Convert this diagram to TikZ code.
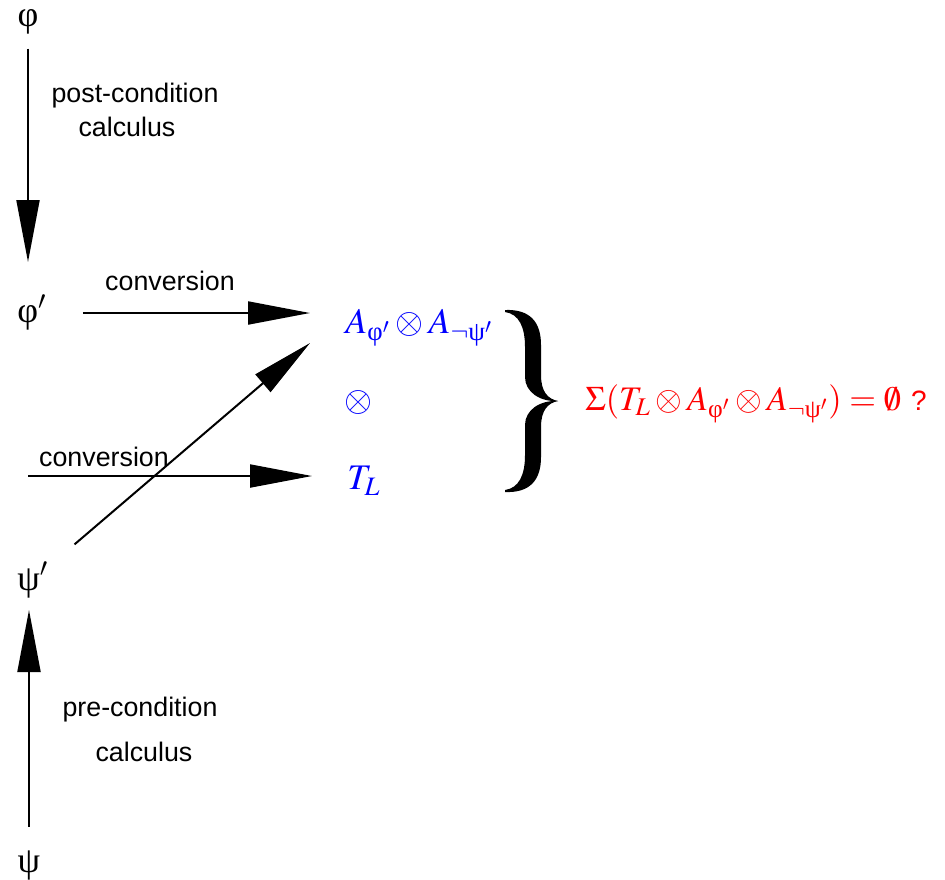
\documentclass[tikz,border=0pt]{standalone}
\usepackage{mathptmx}
\usepackage{amsmath}
\usepackage[no-math]{fontspec}
\newfontfamily\lblfont{Liberation Sans}
\newfontfamily\grk{Liberation Serif}
\usetikzlibrary{arrows.meta}
\newcommand{\gph}{\text{\grk φ}}
\newcommand{\gps}{\text{\grk ψ}}
\begin{document}
\begin{tikzpicture}[x=0.5pt,y=-0.5pt,
  lbl/.style={font=\lblfont\fontsize{13.4}{16}\selectfont, inner sep=0},
  gk/.style={font=\grk\fontsize{18}{20}\selectfont, inner sep=0},
  mth/.style={font=\fontsize{18}{22}\selectfont, inner sep=0},
  arr/.style={line width=1pt, -{Triangle[length=31pt,width=11.5pt]}}]
\useasboundingbox (0,0) rectangle (945,879);
% greek labels
\node[gk] (phi) at (28,22) {φ};
\node[gk, anchor=west] (phip) at (17,313) {φ$'$};
\node[gk, anchor=west] (psip) at (17,580) {ψ$'$};
\node[gk] (psi) at (29,865) {ψ};
% blue / red formulas
\node[mth, text=blue, anchor=west] (A) at (345,328) {$A_{\gph'}\otimes A_{\neg\gps'}$};
\node[mth, text=blue] (ot) at (358,402) {$\otimes$};
\node[mth, text=blue, anchor=west] (TL) at (347,481) {$T_L$};
\node[mth, text=red, anchor=west, font=\fontsize{17.2}{21}\selectfont] (eq) at (585,404) {$\Sigma(T_L\otimes A_{\gph'}\otimes A_{\neg\gps'})=\emptyset$\hspace{5pt}{\lblfont\fontsize{14}{17}\selectfont ?}};
% text labels
\node[lbl] (post1) at (135,96) {post-condition};
\node[lbl] (post2) at (127,127) {calculus};
\node[lbl] (conv1) at (170,281) {conversion};
\node[lbl] (conv2) at (104,457) {conversion};
\node[lbl] (pre1) at (140,710) {pre-condition};
\node[lbl] (pre2) at (144,752) {calculus};
% connectors
\draw[arr, shorten <=7pt, shorten >=25.5pt] (phi) -- (phi |- phip);
\draw[arr, shorten <=11.5pt, shorten >=15pt] (psi) -- (psi |- psip);
\draw[arr, shorten <=18pt, shorten >=17.5pt] (phip.east) -- (phip.east -| A.west);
\coordinate (cs) at (28,476);
\draw[arr, shorten >=17.5pt] (cs) -- (cs -| TL.west);
\coordinate (dt) at (310,343);
\draw[arr, shorten <=17pt] (psip) -- (dt);
% brace
\fill (505,310) .. controls (530,309) and (541,322) .. (541,345) -- (541,375) .. controls (541,392) and (548,399) .. (558,401) .. controls (540,402) and (525,392) .. (525,377) -- (525,347) .. controls (525,327) and (519,314) .. (505,312) -- cycle;
\fill (505,492) .. controls (530,493) and (541,480) .. (541,457) -- (541,427) .. controls (541,410) and (548,403) .. (558,401) .. controls (540,400) and (525,410) .. (525,425) -- (525,455) .. controls (525,475) and (519,488) .. (505,490) -- cycle;
\end{tikzpicture}
\end{document}
